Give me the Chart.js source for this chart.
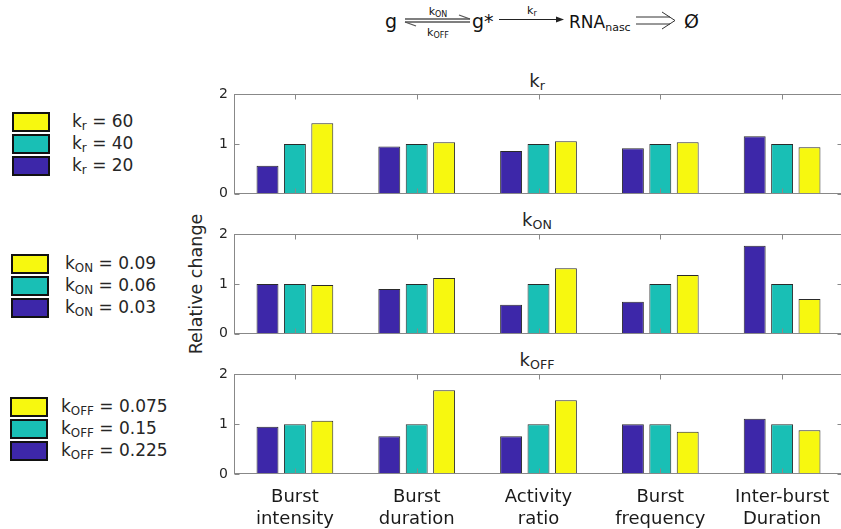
<!DOCTYPE html>
<html><head><meta charset="utf-8">
<script src="https://cdn.jsdelivr.net/npm/chart.js@4/dist/chart.umd.min.js"></script>
<style>
html,body{margin:0;padding:0;background:#fff;}
#wrap{position:relative;width:841px;height:529px;overflow:hidden;font-family:"DejaVu Sans",sans-serif;color:#262626;}
canvas{position:absolute;}
.box{position:absolute;width:34px;height:16px;border:2px solid #111;}
.lt{position:absolute;font-size:17px;line-height:20px;white-space:nowrap;}
.lt sub,.tt sub{font-size:70%;vertical-align:-0.25em;line-height:0;}
.tt{position:absolute;font-size:18px;line-height:20px;white-space:nowrap;transform:translateX(-50%);}
#ylab{position:absolute;left:196px;top:284px;font-size:17.5px;white-space:nowrap;transform:translate(-50%,-50%) rotate(-90deg);}
</style></head>
<body><div id="wrap">
<svg width="841" height="50" style="position:absolute;left:0;top:0" font-family="DejaVu Sans" fill="#111">
  <text x="385" y="28" font-size="19">g</text>
  <line x1="405" y1="19" x2="470" y2="19" stroke="#555" stroke-width="1.3"/>
  <line x1="470" y1="19" x2="459" y2="15" stroke="#555" stroke-width="1.3"/>
  <line x1="405" y1="22" x2="470" y2="22" stroke="#555" stroke-width="1.3"/>
  <line x1="405" y1="22" x2="416" y2="26" stroke="#555" stroke-width="1.3"/>
  <text x="438" y="15" font-size="11" text-anchor="middle">k<tspan font-size="8" dy="2">ON</tspan></text>
  <text x="438" y="36" font-size="11" text-anchor="middle">k<tspan font-size="8" dy="2">OFF</tspan></text>
  <text x="472" y="28" font-size="19">g*</text>
  <line x1="499" y1="19.5" x2="558" y2="19.5" stroke="#222" stroke-width="1"/>
  <polygon points="564,19.5 556,16.5 556,22.5" fill="#222"/>
  <text x="527" y="14" font-size="11">k<tspan font-size="8" dy="2">r</tspan></text>
  <text x="569" y="28" font-size="17">RNA<tspan font-size="11" dy="3">nasc</tspan></text>
  <line x1="636" y1="17" x2="670" y2="17" stroke="#333" stroke-width="1"/>
  <line x1="636" y1="24" x2="670" y2="24" stroke="#333" stroke-width="1"/>
  <polyline points="662,12 675,20.5 662,29" fill="none" stroke="#333" stroke-width="1"/>
  <text x="684" y="28" font-size="19">Ø</text>
</svg>

<div class="tt" style="left:537px;top:71px">k<sub>r</sub></div>
<div class="tt" style="left:537px;top:210px">k<sub>ON</sub></div>
<div class="tt" style="left:537px;top:350px">k<sub>OFF</sub></div>
<div id="ylab">Relative change</div>

<div class="box" style="left:12px;top:112px;background:#f7f80f"></div><div class="lt" style="left:72px;top:111px">k<sub>r</sub> = 60</div>
<div class="box" style="left:12px;top:134px;background:#19bfb5"></div><div class="lt" style="left:72px;top:133px">k<sub>r</sub> = 40</div>
<div class="box" style="left:12px;top:156px;background:#3d27a9"></div><div class="lt" style="left:72px;top:155px">k<sub>r</sub> = 20</div>

<div class="box" style="left:11px;top:254px;background:#f7f80f"></div><div class="lt" style="left:65px;top:253px">k<sub>ON</sub> = 0.09</div>
<div class="box" style="left:11px;top:276px;background:#19bfb5"></div><div class="lt" style="left:65px;top:275px">k<sub>ON</sub> = 0.06</div>
<div class="box" style="left:11px;top:298px;background:#3d27a9"></div><div class="lt" style="left:65px;top:297px">k<sub>ON</sub> = 0.03</div>

<div class="box" style="left:10px;top:397px;background:#f7f80f"></div><div class="lt" style="left:61px;top:396px">k<sub>OFF</sub> = 0.075</div>
<div class="box" style="left:10px;top:419px;background:#19bfb5"></div><div class="lt" style="left:61px;top:418px">k<sub>OFF</sub> = 0.15</div>
<div class="box" style="left:10px;top:441px;background:#3d27a9"></div><div class="lt" style="left:61px;top:440px">k<sub>OFF</sub> = 0.225</div>

<canvas id="c1" width="660" height="128" style="left:190px;top:80px"></canvas>
<canvas id="c2" width="660" height="128" style="left:190px;top:220px"></canvas>
<canvas id="c3" width="660" height="169" style="left:190px;top:360px"></canvas>
</div>
<script>
const categories = [["Burst","intensity"],["Burst","duration"],["Activity","ratio"],["Burst","frequency"],["Inter-burst","Duration"]];
const yTicks = [0, 1, 2];
// k_r panel
const kr20 = [0.56, 0.95, 0.86, 0.915, 1.155];
const kr40 = [1, 1, 1, 1, 1];
const kr60 = [1.42, 1.035, 1.055, 1.035, 0.935];
// k_ON panel
const kon003 = [1.0, 0.90, 0.58, 0.64, 1.77];
const kon006 = [1, 1, 1, 1, 1];
const kon009 = [0.98, 1.12, 1.32, 1.18, 0.70];
// k_OFF panel
const koff0225 = [0.95, 0.76, 0.76, 1.0, 1.11];
const koff015 = [1, 1, 1, 1, 1];
const koff0075 = [1.07, 1.68, 1.48, 0.85, 0.88];

const C_BLUE = '#3d27a9', C_TEAL = '#19bfb5', C_YEL = '#f7f80f';

const boxPlugin = {
  id: 'boxTicks',
  afterDatasetsDraw(chart) {
    const {ctx, chartArea: a, scales: {x, y}} = chart;
    ctx.save();
    ctx.strokeStyle = '#888';
    ctx.lineWidth = 1;
    const L = Math.round(a.left) + 0.5, R = Math.round(a.right) - 0.5, T = Math.round(a.top) + 0.5, B = Math.round(a.bottom) - 0.5;
    ctx.strokeRect(L, T, R - L, B - T);
    ctx.beginPath();
    yTicks.forEach(v => {
      const py = Math.round(y.getPixelForValue(v)) + 0.5;
      ctx.moveTo(L, py); ctx.lineTo(L + 5, py);
      ctx.moveTo(R, py); ctx.lineTo(R - 5, py);
    });
    categories.forEach((c, i) => {
      const px = Math.round(x.getPixelForValue(i)) + 0.5;
      ctx.moveTo(px, T); ctx.lineTo(px, T + 5);
      ctx.moveTo(px, B); ctx.lineTo(px, B - 5);
    });
    ctx.stroke();
    ctx.restore();
  }
};

function makeChart(id, low, mid, high, showX) {
  const ds = (data, color) => ({data, backgroundColor: color, borderColor: '#2a2a2a', borderWidth: 1,
    categoryPercentage: 0.675, barPercentage: 0.8});
  return new Chart(document.getElementById(id), {
    type: 'bar',
    data: {labels: categories, datasets: [ds(low, C_BLUE), ds(mid, C_TEAL), ds(high, C_YEL)]},
    options: {
      responsive: false, animation: false,
      layout: {padding: {top: 0, bottom: 0, right: 7, left: 0}},
      plugins: {legend: {display: false}, tooltip: {enabled: false}, title: {display: false}},
      scales: {
        x: {
          grid: {display: false, drawTicks: false}, border: {display: false},
          ticks: {display: showX, color: '#1a1a1a', font: {family: 'DejaVu Sans', size: 18, lineHeight: 1.2}, padding: 13, maxRotation: 0, autoSkip: false},
          afterFit: s => { s.height = showX ? 55 : 0; }
        },
        y: {
          min: 0, max: 2,
          grid: {display: false, drawTicks: false}, border: {display: false},
          ticks: {stepSize: 1, color: '#262626', font: {family: 'DejaVu Sans', size: 14}, padding: 6},
          afterFit: s => { s.width = 44; }
        }
      }
    },
    plugins: [boxPlugin]
  });
}
makeChart('c1', kr20, kr40, kr60, false);
makeChart('c2', kon003, kon006, kon009, false);
makeChart('c3', koff0225, koff015, koff0075, true);
</script>
</body></html>
